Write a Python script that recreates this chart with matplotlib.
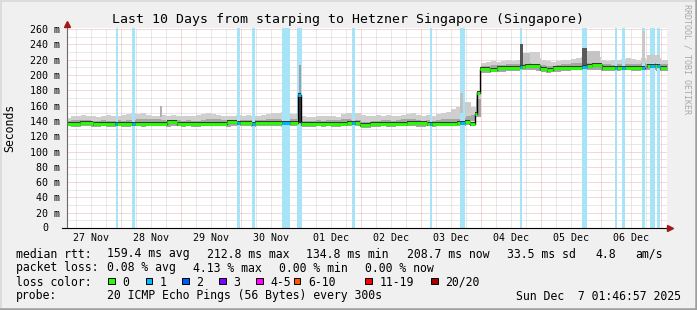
import matplotlib
matplotlib.use("Agg")
import matplotlib.pyplot as plt
from matplotlib.patches import Rectangle

MONO = "DejaVu Sans Mono"

# --- data (time axis = hours since 27 Nov 00:00) ---------------------------

# smoke, 2 hour bins starting at these hours (one row = one day)
smoke_h = list(range(0, 242, 2))
smoke_lo = [133, 133, 132, 132, 133, 133, 132, 132, 133, 132, 132, 133,
            132, 132, 133, 133, 132, 133, 134, 134, 133, 132, 133, 133,
            132, 133, 132, 132, 133, 134, 134, 133, 133, 132, 133, 133,
            133, 133, 132, 133, 133, 133, 134, 133, 132, 133, 133, 134,
            132, 132, 132, 133, 132, 133, 132, 132, 133, 134, 133, 133,
            131, 131, 132, 132, 133, 132, 132, 133, 133, 133, 133, 132,
            132, 133, 132, 133, 133, 134, 134, 133, 134, 135,
            140, 145,
            203, 203, 204, 204, 204, 205, 205, 205, 206, 206, 206, 205,
            204, 203, 204, 204, 205, 205, 206, 206, 207, 207, 206, 206,
            205, 205, 205, 205, 206, 206, 205, 205, 206, 206, 206, 205,
            205]
smoke_mid = [140, 140, 141, 141, 141, 141, 140, 140, 141, 140, 140, 141,
             140, 141, 141, 142, 142, 142, 143, 143, 141, 140, 141, 141,
             140, 141, 140, 140, 141, 142, 143, 142, 141, 141, 141, 141,
             141, 141, 141, 141, 141, 142, 142, 142, 141, 142, 142, 142,
             140, 140, 140, 141, 140, 141, 141, 141, 142, 142, 141, 141,
             139, 139, 140, 140, 141, 141, 140, 141, 142, 142, 142, 141,
             140, 141, 140, 141, 142, 143, 143, 142, 144, 146,
             148, 168,
             212, 212, 213, 213, 213, 214, 214, 214, 215, 216, 215, 215,
             213, 212, 212, 213, 214, 214, 216, 216, 216, 217, 216, 215,
             214, 214, 213, 214, 214, 215, 214, 214, 216, 215, 216, 215,
             214]
smoke_hi = [145, 144, 146, 147, 148, 147, 146, 145, 146, 148, 147, 146,
            148, 149, 150, 149, 150, 148, 147, 146, 148, 147, 148, 146,
            147, 146, 147, 148, 149, 150, 149, 148, 147, 146, 147, 148,
            146, 148, 147, 146, 148, 149, 150, 151, 152, 150, 149, 151,
            146, 145, 145, 147, 146, 147, 146, 145, 149, 150, 151, 150,
            148, 147, 146, 148, 147, 148, 147, 146, 148, 149, 150, 148,
            147, 148, 147, 149, 150, 152, 156, 158, 162, 158,
            158, 178,
            216, 217, 218, 217, 218, 219, 218, 219, 222, 223, 221, 222,
            219, 218, 217, 218, 219, 220, 221, 222, 224, 226, 225, 223,
            219, 218, 219, 220, 221, 222, 221, 220, 222, 220, 223, 222,
            219]

# single outliers in the smoke (start h, end h, low, high, shade)
spike_t0 = [39.6, 94.8, 95.2, 159.6, 161.6, 183.6, 184.8, 187.6, 208.4, 210.4, 232.4, 234.4]
spike_t1 = [40.4, 96.0, 96.0, 160.8, 164.0, 184.8, 187.6, 191.6, 210.4, 215.6, 233.6, 239.6]
spike_lo = [145, 137, 174, 150, 150, 212, 215, 218, 213, 216, 216, 216]
spike_hi = [159, 174, 213, 176, 165, 241, 229, 230, 235, 232, 258, 226]
spike_col = ["#b0b0b0", "#3c3c3c", "#a0a0a0", "#c0c0c0", "#cccccc", "#555555",
             "#c0c0c0", "#d0d0d0", "#5a5a5a", "#c4c4c4", "#c8c8c8", "#cacaca"]

# median rtt steps (start hour, ms, lost pings)
med_t = [2.4, 7.6, 12.8, 21.6, 22.4, 28.4, 29.6, 42.4, 46.4, 66.4, 70.4, 71.6,
         76.4, 77.6, 88.4, 91.6, 94.8, 96.0, 114.4, 116.4, 117.6, 119.6, 123.6,
         138.4, 146.4, 147.6, 148.4, 158.4, 159.6, 161.6, 163.6, 165.6, 166.4,
         167.6, 171.6, 174.4, 183.6, 184.4, 185.6, 191.6, 194.4, 196.8, 208.4,
         210.4, 212.4, 216.4, 221.6, 222.4, 224.4, 225.6, 232.4, 233.6, 234.4,
         235.6, 237.6, 238.4, 239.6]
med_v = [135.6, 137, 135.5, 136, 136, 135.5, 136, 139, 136, 138, 137.5, 137,
         136.5, 137, 137.5, 137.5, 174, 136, 137.5, 137.5, 137.5, 135, 136,
         137.5, 136, 136, 136, 137.5, 137, 138, 136, 149, 176,
         207.5, 206, 209, 211, 211, 211.5, 208, 206, 209, 211,
         212, 213, 209, 209, 209, 209, 209, 209, float("nan"), 212,
         212, 211.5, 211.5, 209]
med_loss = [0, 0, 0, 1, 0, 1, 0, 0, 0, 0, 1, 0,
            1, 0, 1, 0, 1, 0, 0, 1, 0, 0, 0,
            0, 0, 1, 0, 0, 1, 0, 0, 0, 0,
            0, 0, 0, 1, 0, 0, 0, 0, 0, 1,
            0, 0, 0, 1, 0, 1, 0, 1, 0, 0,
            1, 0, 1, 0]

# periods with packet loss (start h, end h)
loss_t0 = [21.8, 28.4, 70.4, 76.4, 88.4, 94.4, 116.4, 147.6, 159.6, 183.6,
           208.4, 221.6, 224.4, 232.4, 235.6, 238.4]
loss_t1 = [22.6, 29.6, 71.6, 77.6, 91.6, 96.4, 117.6, 148.4, 161.6, 184.4,
           210.4, 222.4, 225.6, 233.6, 237.6, 239.6]

day_labels = ["27 Nov", "28 Nov", "29 Nov", "30 Nov", "01 Dec",
              "02 Dec", "03 Dec", "04 Dec", "05 Dec", "06 Dec"]
y_ticks = list(range(0, 261, 20))

loss_names = ["0", "1", "2", "3", "4-5", "6-10", "11-19", "20/20"]
loss_cols = ["#26ff00", "#00b8ff", "#0059ff", "#7e00ff", "#ff00ff",
             "#ff5500", "#ff0000", "#a10000"]

T_END = 242.4


def main():
    fig = plt.figure(figsize=(6.97, 3.10), dpi=100, facecolor="#f0f0f0")
    ax = fig.add_axes([67 / 697, 82 / 310, 600 / 697, 200.4 / 310])
    ax.set_facecolor("white")
    ax.set_xlim(2.4, T_END)
    ax.set_ylim(0, 262)
    for s in ax.spines.values():
        s.set_visible(False)

    # grid
    dots = (0, (1, 1))
    for h in range(6, 243, 6):
        c = "#eab0b0" if h % 24 == 0 else "#d2d2d2"
        ax.axvline(h, color=c, lw=0.72, ls=dots, zorder=0.5)
    for v in range(10, 261, 10):
        c = "#eab0b0" if v % 20 == 0 else "#d2d2d2"
        ax.axhline(v, color=c, lw=0.72, ls=dots, zorder=0.5)

    # smoke
    xs = smoke_h + [244]
    ax.fill_between(xs, smoke_lo + smoke_lo[-1:], smoke_hi + smoke_hi[-1:],
                    step="post", color="#cfcfcf", lw=0, zorder=1)
    ax.fill_between(xs, smoke_lo + smoke_lo[-1:], smoke_mid + smoke_mid[-1:],
                    step="post", color="#a6a6a6", lw=0, zorder=1.1)

    # loss periods
    for a, b in zip(loss_t0, loss_t1):
        ax.axvspan(a, b, color="#a8e4f8", lw=0, zorder=1.5)

    # outliers
    for a, b, lo, hi, c in zip(spike_t0, spike_t1, spike_lo, spike_hi, spike_col):
        ax.bar(a, hi - lo, bottom=lo, width=b - a, align="edge", color=c,
               lw=0, zorder=2)

    # median line: thin black steps, dark edge, loss coloured segments
    ax.step(med_t + [T_END], med_v + med_v[-1:], where="post", color="black",
            lw=1.0, zorder=2.5)
    ends = med_t[1:] + [T_END]
    ax.hlines(med_v, med_t, ends, color="#3a3a3a", lw=2.9, zorder=2.6)
    for a, b, v, l in zip(med_t, ends, med_v, med_loss):
        ax.hlines(v, a, b, color=loss_cols[l], lw=2.1, zorder=3)

    # ticks
    ax.set_xticks([12 + 24 * k for k in range(10)])
    ax.set_xticklabels(day_labels, family=MONO, fontsize=7.2)
    ax.set_yticks(y_ticks)
    ax.set_yticklabels([f"{v} m" if v else "" for v in y_ticks],
                       family=MONO, fontsize=7.2)
    ax.tick_params(axis="x", length=0, pad=3.5)
    ax.tick_params(axis="y", length=0, pad=5)
    # the zero label has no unit, rrdtool leaves its place blank
    ax.annotate("0", xy=(0, 0), xycoords=ax.get_yaxis_transform(),
                xytext=(-13.7, 0), textcoords="offset points", ha="right",
                va="center", family=MONO, fontsize=7.2)

    # overlay in pixel coordinates for frame, axes, title and legend
    ov = fig.add_axes([0, 0, 1, 1], zorder=5)
    ov.set_xlim(0, 697)
    ov.set_ylim(310, 0)
    ov.axis("off")
    ov.patch.set_visible(False)

    ov.plot([0, 697], [0.5, 0.5], color="#dcdcdc", lw=1.4)
    ov.plot([0.5, 0.5], [0, 310], color="#dcdcdc", lw=1.4)
    ov.plot([0, 697], [309, 309], color="#9e9e9e", lw=1.8)
    ov.plot([696, 696], [0, 310], color="#9e9e9e", lw=1.8)

    ov.plot([67, 67], [228, 25], color="#6a6a6a", lw=0.8)
    ov.plot([62, 668], [228, 228], color="black", lw=0.8)
    ov.plot([67], [23.5], marker="^", color="#a01818", ms=4.5)
    ov.plot([670], [228], marker=">", color="#a01818", ms=4.5)

    ov.text(348, 19, "Last 10 Days from starping to Hetzner Singapore (Singapore)",
            family=MONO, fontsize=9.5, ha="center", va="center")
    ov.text(10, 128, "Seconds", family=MONO, fontsize=8.3, rotation=90,
            ha="center", va="center")
    ov.text(687, 4, "RRDTOOL / TOBI OETIKER", family=MONO, fontsize=6,
            rotation=270, ha="center", va="top", color="#a8a8a8")

    fs = 8.3
    rows = [
        (254, [("median rtt:", 16), ("159.4 ms avg", 107), ("212.8 ms max", 207),
               ("134.8 ms min", 306), ("208.7 ms now", 407), ("33.5 ms sd", 507),
               ("4.8", 595), ("am/s", 635)]),
        (268, [("packet loss:", 16), ("0.08 % avg", 107), ("4.13 % max", 193),
               ("0.00 % min", 279), ("0.00 % now", 365)]),
        (282, [("loss color:", 16)]),
        (296, [("probe:", 16), ("20 ICMP Echo Pings (56 Bytes) every 300s", 107)]),
    ]
    for y, items in rows:
        for s, x in items:
            ov.text(x, y, s, family=MONO, fontsize=fs, ha="left", va="center")
    ov.text(681, 296, "Sun Dec  7 01:46:57 2025", family=MONO, fontsize=fs,
            ha="right", va="center")

    sq_x = [108, 145.5, 182, 219, 256, 293.5, 365, 431]
    for x, name, c in zip(sq_x, loss_names, loss_cols):
        ov.add_patch(Rectangle((x, 277.5), 6.5, 6.5, facecolor=c,
                               edgecolor="black", lw=0.7))
        ov.text(x + 14.5, 282, name, family=MONO, fontsize=fs, ha="left",
                va="center")

    fig.savefig("out.png", dpi=100, facecolor=fig.get_facecolor())


if __name__ == "__main__":
    main()
